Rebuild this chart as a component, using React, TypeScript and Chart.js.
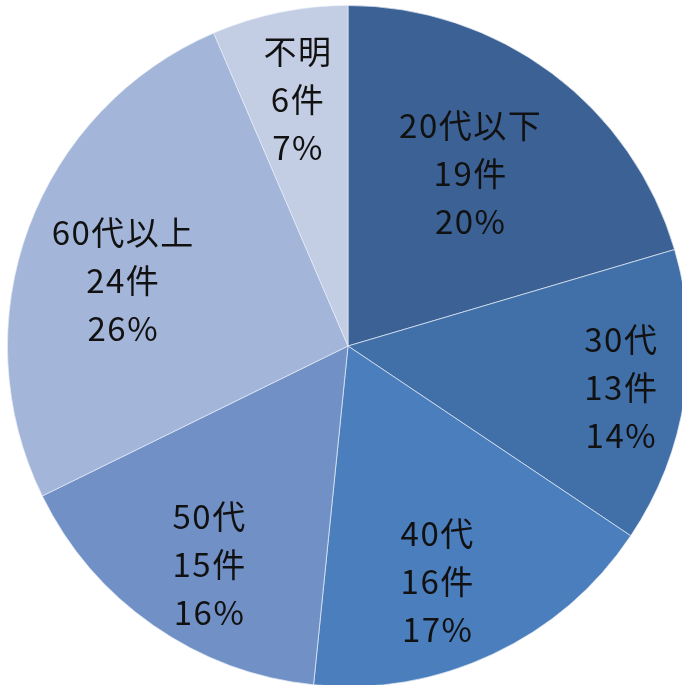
import React, { useEffect, useRef } from "react";
import { Chart, registerables } from "chart.js";

Chart.register(...registerables);

const categories = ["20代以下", "30代", "40代", "50代", "60代以上", "不明"];
const counts = [19, 13, 16, 15, 24, 6];
const percentLabels = ["20%", "14%", "17%", "16%", "26%", "7%"];
const colors = ["#3B6195", "#416FA8", "#4A7EBC", "#7191C6", "#A3B5D8", "#C3CDE3"];
const labelRadius = [0.62, 0.81, 0.74, 0.76, 0.69, 0.74];
const labelAngleShift = [-1.5, 0, 4.5, -2.3, -4, 0];

const labelPlugin = {
  id: "sliceLabels",
  afterDatasetsDraw(chart: any) {
    const ctx = chart.ctx;
    const meta = chart.getDatasetMeta(0);
    ctx.save();
    ctx.font = '33px "Noto Sans CJK JP", sans-serif';
    const spacing = 1.5;
    try {
      (ctx as any).letterSpacing = spacing + "px";
    } catch (e) {}
    ctx.fillStyle = "#111111";
    ctx.textAlign = "center";
    ctx.textBaseline = "middle";
    meta.data.forEach((arc: any, i: number) => {
      const { x, y, startAngle, endAngle, outerRadius } = arc.getProps(
        ["x", "y", "startAngle", "endAngle", "outerRadius"],
        true
      );
      const mid = (startAngle + endAngle) / 2 + (labelAngleShift[i] * Math.PI) / 180;
      const r = outerRadius * labelRadius[i];
      const cx = x + Math.cos(mid) * r;
      const cy = y + Math.sin(mid) * r;
      const lines = [categories[i], `${counts[i]}件`, percentLabels[i]];
      const lh = 48;
      lines.forEach((t, k) => {
        ctx.fillText(t, cx + spacing / 2, cy + (k - 1) * lh);
      });
    });
    ctx.restore();
  },
};

export default function App() {
  const ref = useRef<HTMLCanvasElement>(null);
  useEffect(() => {
    if (!ref.current) return;
    const chart = new Chart(ref.current, {
      type: "pie",
      data: {
        labels: categories,
        datasets: [
          {
            data: counts,
            backgroundColor: colors,
            borderColor: "rgba(230,236,246,0.7)",
            borderWidth: 1,
          },
        ],
      },
      options: {
        animation: false,
        responsive: false,
        maintainAspectRatio: false,
        layout: { padding: 0 },
        plugins: {
          legend: { display: false },
          tooltip: { enabled: false },
        },
      },
      plugins: [labelPlugin],
    });
    return () => chart.destroy();
  }, []);
  return (
    <div
      style={{
        position: "fixed",
        left: 0,
        top: 0,
        width: 682,
        height: 685,
        overflow: "hidden",
        background: "#ffffff",
      }}
    >
      <canvas
        ref={ref}
        width={682}
        height={682}
        style={{ position: "absolute", left: 7, top: 5, width: 682, height: 682 }}
      />
    </div>
  );
}
